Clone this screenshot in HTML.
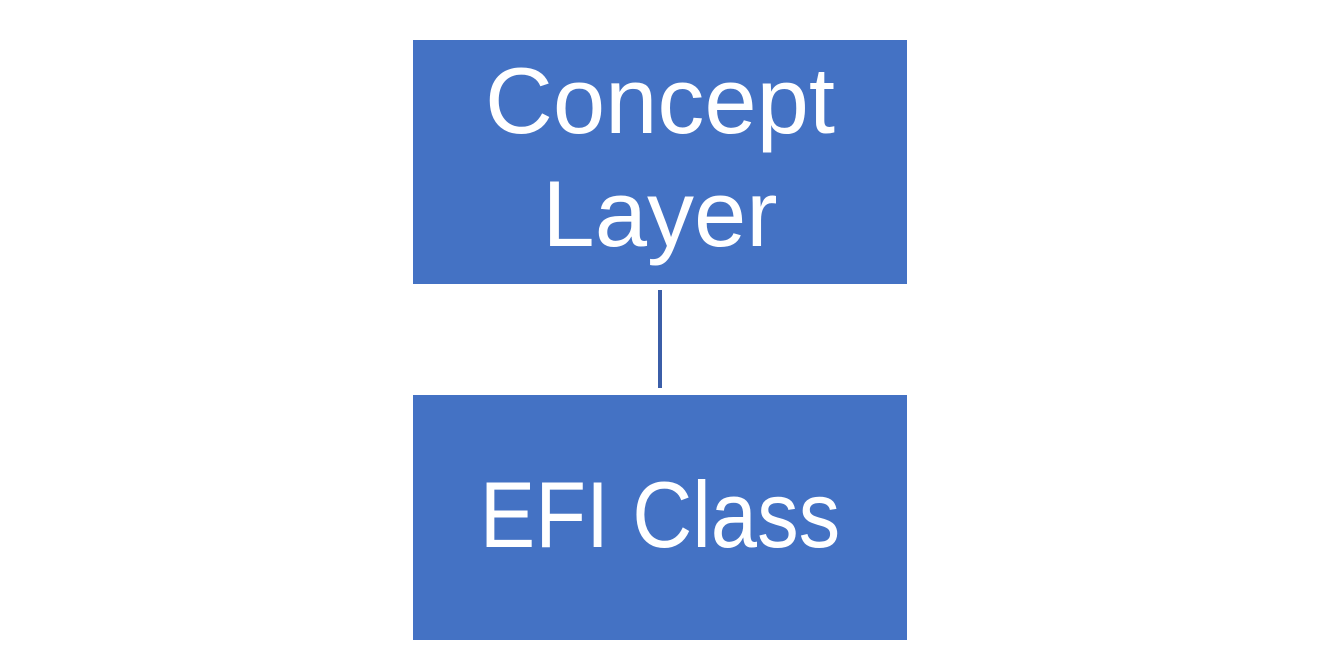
<!DOCTYPE html>
<html><head><style>
html,body{margin:0;padding:0;background:#fff;width:1320px;height:650px;overflow:hidden;position:relative;font-family:"Liberation Sans",sans-serif}
.b{position:absolute;left:413px;width:494px;background:#4472c4}
.t{position:absolute;left:0;width:494px;text-align:center;color:#fff;font-size:94px;line-height:94px;white-space:nowrap}
</style></head><body>
<div class="b" style="top:40px;height:244px">
<div class="t" style="top:14px">Concept</div>
<div class="t" style="top:127px">Layer</div>
</div>
<div style="position:absolute;left:658px;top:290px;width:4px;height:98px;background:#3b5ea8"></div>
<div class="b" style="top:395px;height:245px">
<div class="t" style="top:73px;transform:scaleX(0.885)">EFI Class</div>
</div>
</body></html>
